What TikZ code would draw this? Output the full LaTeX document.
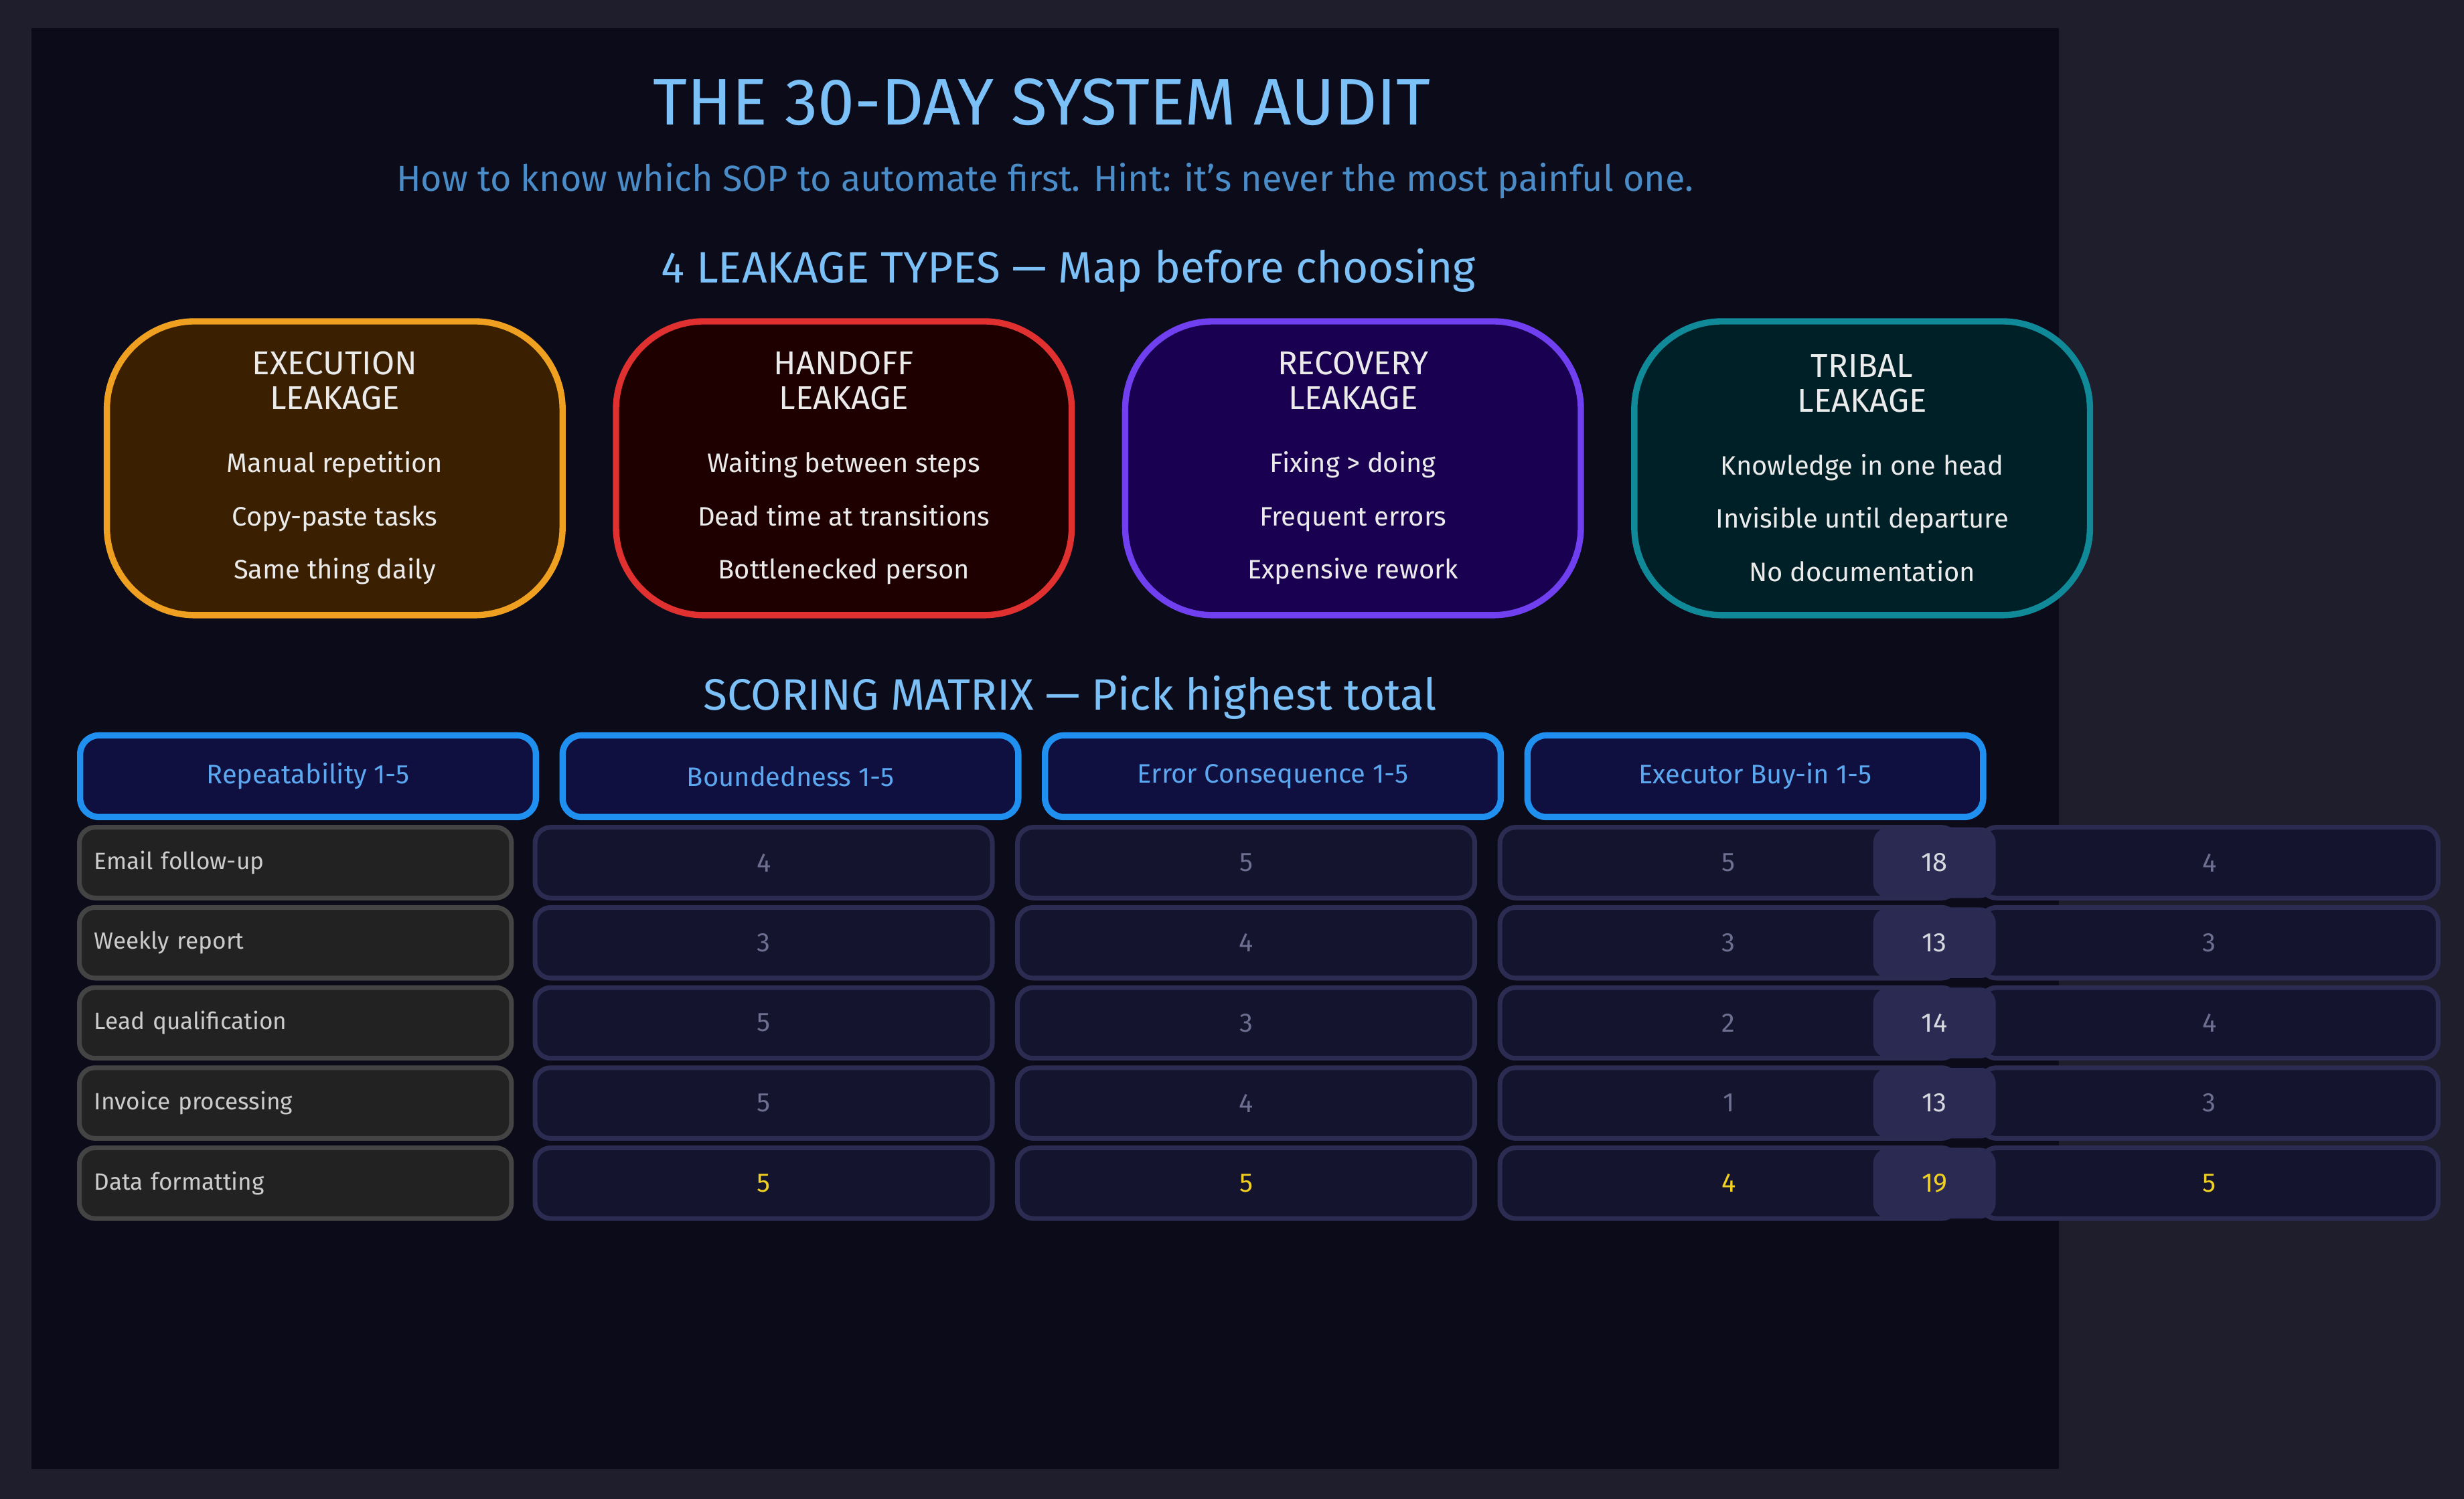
\documentclass[tikz,border=0pt]{standalone}
\usepackage{fontspec}
\setmainfont{Fira Sans}
\definecolor{outerbg}{HTML}{1E1E2C}
\definecolor{panel}{HTML}{0B0B1A}
\definecolor{ttl}{HTML}{7CC0F8}
\definecolor{sub}{HTML}{4A8CC8}
\definecolor{hdtxt}{HTML}{5CA8F0}
\definecolor{hddraw}{HTML}{2090F0}
\definecolor{hdfill}{HTML}{0F0F40}
\definecolor{labdraw}{HTML}{444444}
\definecolor{labfill}{HTML}{222222}
\definecolor{cellfill}{HTML}{14142E}
\definecolor{celldraw}{HTML}{2C2C52}
\definecolor{totfill}{HTML}{2A2A52}
\definecolor{valtxt}{HTML}{6E6E90}
\definecolor{hi}{HTML}{F0D020}
\definecolor{eD}{HTML}{F0A020}\definecolor{eF}{HTML}{3A2000}
\definecolor{hD}{HTML}{E03030}\definecolor{hF}{HTML}{1E0000}
\definecolor{rD}{HTML}{7040F0}\definecolor{rF}{HTML}{1A0050}
\definecolor{tD}{HTML}{108A98}\definecolor{tF}{HTML}{002028}
\definecolor{totw}{HTML}{D8D8E0}
\tikzset{
 leak/.style={rounded corners=28pt,line width=2pt,text=white!92!black,align=center,minimum width=145pt,minimum height=93.5pt,font=\fontsize{8.5}{11}\selectfont},
 hdr/.style={rounded corners=6pt,line width=2pt,draw=hddraw,fill=hdfill,minimum width=145pt,minimum height=26pt,text=hdtxt,font=\fontsize{8.5}{10}\selectfont},
 lab/.style={rounded corners=5pt,line width=1.5pt,draw=labdraw,fill=labfill,minimum width=137.5pt,minimum height=22.5pt,text=white!80!black,font=\fontsize{7.5}{9}\selectfont,text width=128pt,align=left},
 cell/.style={rounded corners=5pt,line width=1.5pt,draw=celldraw,fill=cellfill,minimum width=145.5pt,minimum height=22.5pt,text=valtxt,font=\fontsize{8.5}{10}\selectfont},
 tot/.style={rounded corners=5pt,fill=totfill,minimum width=39pt,minimum height=22.5pt,font=\fontsize{8.5}{10}\selectfont},
}
\begin{document}
\begin{tikzpicture}[x=0.5pt,y=-0.5pt]
\useasboundingbox (0,0) rectangle (1568,954);
\fill[outerbg] (0,0) rectangle (1568,954);
\fill[panel] (20,18) rectangle (1310,935);
\node[text=ttl,font=\fontsize{21}{24}\selectfont] (title) at (663,65) {THE 30-DAY SYSTEM AUDIT};
\node[text=sub,font=\fontsize{11.5}{13}\selectfont] (subt) at (665,115) {How to know which SOP to automate first. Hint: it's never the most painful one.};
\node[text=ttl,font=\fontsize{14}{16}\selectfont] (s1) at (680,172) {4 LEAKAGE TYPES — Map before choosing};
\node[leak,draw=eD,fill=eF] (e) at (213,298) {\fontsize{10.5}{13}\selectfont EXECUTION\\ \fontsize{10.5}{13}\selectfont LEAKAGE\\[9pt] Manual repetition\\[6pt] Copy-paste tasks\\[6pt] Same thing daily};
\node[leak,draw=hD,fill=hF] (h) at (537,298) {\fontsize{10.5}{13}\selectfont HANDOFF\\ \fontsize{10.5}{13}\selectfont LEAKAGE\\[9pt] Waiting between steps\\[6pt] Dead time at transitions\\[6pt] Bottlenecked person};
\node[leak,draw=rD,fill=rF] (r) at (861,298) {\fontsize{10.5}{13}\selectfont RECOVERY\\ \fontsize{10.5}{13}\selectfont LEAKAGE\\[9pt] Fixing > doing\\[6pt] Frequent errors\\[6pt] Expensive rework};
\node[leak,draw=tD,fill=tF] (t) at (1185,298) {\fontsize{10.5}{13}\selectfont TRIBAL\\ \fontsize{10.5}{13}\selectfont LEAKAGE\\[9pt] Knowledge in one head\\[6pt] Invisible until departure\\[6pt] No documentation};
\node[text=ttl,font=\fontsize{14}{16}\selectfont] (s2) at (681,444) {SCORING MATRIX — Pick highest total};
\node[hdr] (h1) at (196,494) {Repeatability 1-5};
\node[hdr] (h2) at (503,494) {Boundedness 1-5};
\node[hdr] (h3) at (810,494) {Error Consequence 1-5};
\node[hdr] (h4) at (1117,494) {Executor Buy-in 1-5};
\foreach \n/\y/\a/\b/\c/\d/\s/\col/\tc in {
 1/549/4/5/5/4/18/valtxt/totw, 2/600/3/4/3/3/13/valtxt/totw, 3/651/5/3/2/4/14/valtxt/totw,
 4/702/5/4/1/3/13/valtxt/totw, 5/753/5/5/4/5/19/hi/hi}{
 \node[cell,text=\col] (a\n) at (486,\y) {\a};
 \node[cell,text=\col] (b\n) at (793,\y) {\b};
 \node[cell,text=\col] (c\n) at (1100,\y) {\c};
 \node[cell,text=\col] (d\n) at (1406,\y) {\d};
 \node[tot,text=\tc] (s\n) at (1231,\y) {\s};
}
\node[lab] (l1) at (188,549) {Email follow-up};
\node[lab] (l2) at (188,600) {Weekly report};
\node[lab] (l3) at (188,651) {Lead qualification};
\node[lab] (l4) at (188,702) {Invoice processing};
\node[lab] (l5) at (188,753) {Data formatting};
\end{tikzpicture}
\end{document}
